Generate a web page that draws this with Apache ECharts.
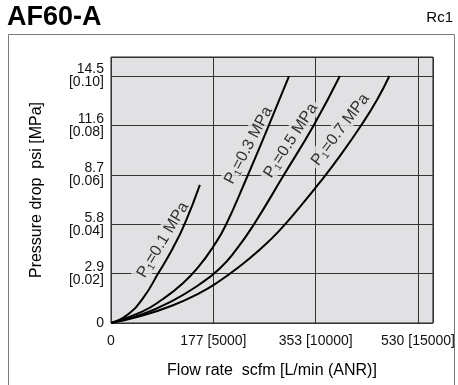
<!DOCTYPE html>
<html>
<head>
<meta charset="utf-8">
<script src="https://cdn.jsdelivr.net/npm/echarts@6/dist/echarts.min.js"></script>
<style>
  html, body { margin: 0; padding: 0; background: #fff; }
  #chart { width: 458px; height: 385px; }
</style>
</head>
<body>
<div id="chart"></div>
<script>
// axis ticks (flow in L/min, pressure drop in MPa)
var xTicks = [0, 5000, 10000, 15000]
var xTickLabels = ['0', '177 [5000]', '353 [10000]', '530 [15000]']
var yTicks = [0, 0.02, 0.04, 0.06, 0.08, 0.1]
var yTickPsi = ['0', '2.9', '5.8', '8.7', '11.6', '14.5']
var yTickMpa = ['', '[0.02]', '[0.04]', '[0.06]', '[0.08]', '[0.10]']

// curves: [flow L/min, pressure drop MPa]
var p01 = [[0, 0], [800, 0.0033], [1600, 0.0105], [2300, 0.02], [3000, 0.03], [3596, 0.04], [4342, 0.0559]]
var p03 = [[0, 0], [1500, 0.0045], [2500, 0.0095], [3500, 0.016], [4300, 0.023], [5000, 0.031], [5600, 0.0395], [6590, 0.058], [7660, 0.079], [8698, 0.1]]
var p05 = [[0, 0], [1500, 0.0035], [3000, 0.009], [4300, 0.0155], [5300, 0.022], [6100, 0.0295], [6950, 0.0395], [8450, 0.06], [9900, 0.08], [11181, 0.1]]
var p07 = [[0, 0], [1500, 0.0029], [3000, 0.0071], [4300, 0.012], [5179, 0.0163], [6389, 0.0236], [7300, 0.03], [8180, 0.037], [9231, 0.047], [10250, 0.0574], [11250, 0.0684], [12250, 0.0804], [13000, 0.0904], [13601, 0.1]]
var pressures = ['0.1', '0.3', '0.5', '0.7']

var font = '"Liberation Sans", Arial, Helvetica, sans-serif'
var plotBg = '#e1e1e3'

function pickLabel (ticks, v) {
  for (var i = 0; i < ticks.length; i++) {
    if (Math.abs(ticks[i] - v) < 1e-9) return i
  }
  return -1
}

// where each pressure label sits (data coords) and its angle
var labelPlace = [
  { at: [2500, 0.0338], rotate: 59 },
  { at: [6680, 0.0721], rotate: 62 },
  { at: [8746, 0.0741], rotate: 57 },
  { at: [11167, 0.0785], rotate: 53 }
]

var curves = [p01, p03, p05, p07]
var series = []
curves.forEach(function (c, i) {
  series.push({
    name: 'P1=' + pressures[i],
    type: 'line',
    data: c,
    smooth: 0.5,
    showSymbol: false,
    silent: true,
    lineStyle: { color: '#000', width: 2 },
    z: 5
  })
  series.push({
    type: 'scatter',
    data: [labelPlace[i].at],
    symbolSize: 0,
    silent: true,
    z: 4,
    label: {
      show: true,
      position: 'inside',
      rotate: labelPlace[i].rotate,
      backgroundColor: plotBg,
      padding: [0, 3],
      formatter: '{a|P}{s|1}{a|=' + pressures[i] + ' MPa}',
      rich: {
        a: { fontFamily: font, fontSize: 16, color: '#000', verticalAlign: 'bottom', lineHeight: 18 },
        s: { fontFamily: font, fontSize: 10, color: '#000', verticalAlign: 'bottom', lineHeight: 18, padding: [0, 0, -1, 0] }
      }
    }
  })
})

var chart = echarts.init(document.getElementById('chart'))
chart.setOption({
  animation: false,
  backgroundColor: '#fff',
  graphic: [
    {
      type: 'rect',
      shape: { x: 8.5, y: 34.5, width: 446, height: 380 },
      style: { fill: 'none', stroke: '#7a7a7a', lineWidth: 1 },
      silent: true
    },
    {
      type: 'text',
      left: 7,
      top: 4,
      style: { text: 'AF60-A', font: 'bold 27px ' + font, fill: '#000' }
    },
    {
      type: 'text',
      right: 5,
      top: 10,
      style: { text: 'Rc1', font: '15px ' + font, fill: '#000' }
    }
  ],
  grid: {
    left: 111,
    top: 57,
    right: 22,
    bottom: 62,
    show: true,
    backgroundColor: plotBg,
    borderColor: '#222',
    borderWidth: 1
  },
  xAxis: {
    type: 'value',
    min: 0,
    max: 15730,
    interval: 5000,
    name: 'Flow rate  scfm [L/min (ANR)]',
    nameLocation: 'middle',
    nameGap: 40,
    nameTextStyle: { fontFamily: font, fontSize: 16, color: '#000' },
    axisLine: { show: false },
    axisTick: { show: false },
    splitLine: { show: true, lineStyle: { color: '#333', width: 1 } },
    axisLabel: {
      margin: 11,
      fontFamily: font,
      fontSize: 14,
      color: '#111',
      formatter: function (v) {
        var i = pickLabel(xTicks, v)
        return i < 0 ? '' : xTickLabels[i]
      }
    }
  },
  yAxis: {
    type: 'value',
    min: 0,
    max: 0.1077,
    interval: 0.02,
    name: 'Pressure drop  psi [MPa]',
    nameLocation: 'middle',
    nameGap: 66,
    nameTextStyle: { fontFamily: font, fontSize: 16, color: '#000' },
    axisLine: { show: false },
    axisTick: { show: false },
    splitLine: { show: true, lineStyle: { color: '#333', width: 1 } },
    axisLabel: {
      margin: 7,
      fontFamily: font,
      fontSize: 14,
      color: '#111',
      lineHeight: 13,
      formatter: function (v) {
        var i = pickLabel(yTicks, v)
        if (i < 0) return ''
        return yTickMpa[i] ? yTickPsi[i] + '\n' + yTickMpa[i] : yTickPsi[i]
      }
    }
  },
  series: series
})
</script>
</body>
</html>
